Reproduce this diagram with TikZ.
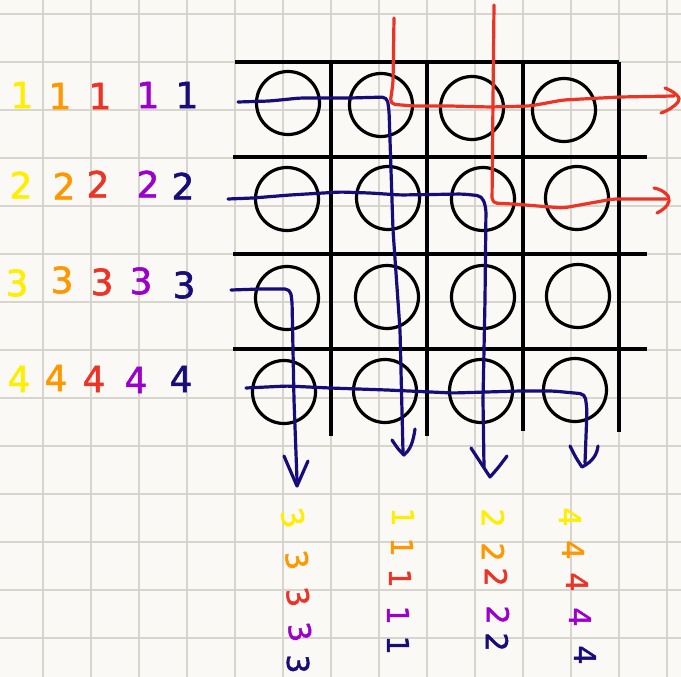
\documentclass[tikz,border=0pt]{standalone}
\usepackage{fontspec}
\setmainfont{DejaVu Sans}
\newfontfamily\hand{DejaVu Sans}[FakeBold=1.6]
\definecolor{paper}{RGB}{251,249,245}
\definecolor{gridc}{RGB}{216,212,206}
\definecolor{cy}{RGB}{255,238,0}
\definecolor{co}{RGB}{255,152,0}
\definecolor{cr}{RGB}{236,52,38}
\definecolor{cp}{RGB}{155,0,204}
\definecolor{cn}{RGB}{22,12,122}
\begin{document}
\begin{tikzpicture}[x=1pt,y=-1pt,
  bggrid/.style={draw=gridc,line width=1.6pt},
  ink/.style={draw=black,line width=3.2pt},
  ring/.style={circle,draw=black,line width=3.2pt,minimum size=63pt,inner sep=0pt},
  bluepen/.style={draw=cn,line width=3.2pt,line cap=round,line join=round,rounded corners=5pt},
  redpen/.style={draw=cr,line width=3.2pt,line cap=round,line join=round,rounded corners=5pt},
  digl/.style={inner sep=0pt,font=\hand\fontsize{36}{36}\selectfont},
  digb/.style={inner sep=0pt,font=\hand\fontsize{30}{30}\selectfont,rotate=-90}]
\fill[paper] (0,0) rectangle (681,677);
\useasboundingbox (0,0) rectangle (681,677);
% background grid
\foreach \x in {43,91,...,667} \draw[bggrid] (\x,0) -- (\x,677);
\foreach \y in {14,62,...,662} \draw[bggrid] (0,\y) -- (681,\y);
% black grid
\draw[ink] (235,62) -- (619,62);
\draw[ink] (233,157) -- (647,157);
\draw[ink] (233,254) -- (647,254);
\draw[ink] (233,349) -- (647,349);
\draw[ink] (331,62) -- (331,436);
\draw[ink] (427,62) -- (427,436);
\draw[ink] (523,62) -- (523,431);
\draw[ink] (619,62) -- (619,432);
% circles
\node[ring] (c11) at (288,103) {};
\node[ring] (c12) at (381,105) {};
\node[ring] (c13) at (472,108) {};
\node[ring] (c14) at (564,110) {};
\node[ring] (c21) at (287,199) {};
\node[ring] (c22) at (388,198) {};
\node[ring] (c23) at (483,199) {};
\node[ring] (c24) at (577,198) {};
\node[ring] (c31) at (287,298) {};
\node[ring] (c32) at (387,297) {};
\node[ring] (c33) at (483,297) {};
\node[ring] (c34) at (578,296) {};
\node[ring] (c41) at (284,392) {};
\node[ring] (c42) at (385,391) {};
\node[ring] (c43) at (481,391) {};
\node[ring] (c44) at (575,390) {};
% blue paths
\coordinate (b1s) at (238,102);
\coordinate (b1e) at (403,452);
\draw[bluepen] (b1s) -- (270,101) -- (300,98) -- (350,98) -- (387,97) -- (389,110) -- (393,230) -- (400,330) -- (b1e);
\draw[bluepen,rounded corners=0pt] (392,440) .. controls (398,449) .. (404,455) .. controls (410,450) and (413,443) .. (415,429);
\coordinate (b2s) at (228,199);
\coordinate (b2e) at (484,467);
\draw[bluepen] (b2s) -- (253,198) -- (290,195) -- (340,192) -- (370,193) -- (400,195) -- (463,194) -- (482,196) -- (486,208) -- (485,300) -- (483,400) -- (b2e);
\draw[bluepen,rounded corners=0pt] (471,448) .. controls (480,462) .. (490,477) .. controls (498,468) .. (507,456);
\coordinate (b3s) at (231,290);
\coordinate (b3e) at (297,480);
\draw[bluepen] (b3s) -- (260,289) -- (290,289) -- (292,300) -- (294,400) -- (b3e);
\draw[bluepen,rounded corners=0pt] (284,456) .. controls (290,470) .. (297,486) .. controls (302,474) .. (308,461);
\coordinate (b4s) at (246,388);
\coordinate (b4e) at (585,463);
\draw[bluepen] (b4s) -- (287,386) -- (330,388) -- (387,390) -- (453,393) -- (520,391) -- (553,391) -- (585,394) -- (587,410) -- (b4e);
\draw[bluepen,rounded corners=0pt] (570,446) .. controls (576,458) .. (582,467) .. controls (592,462) and (597,455) .. (598,446);
% red paths
\coordinate (r1s) at (394,18);
\coordinate (r1e) at (674,96);
\draw[redpen] (r1s) -- (393,83) -- (390,104) -- (413,106) -- (450,106) -- (490,107) -- (530,106) -- (563,100) -- (620,97) -- (r1e);
\draw[redpen,rounded corners=0pt] (665,88) .. controls (675,92) and (682,98) .. (678,102) .. controls (674,107) and (667,111) .. (661,113);
\coordinate (r2s) at (494,5);
\coordinate (r2e) at (666,199);
\draw[redpen] (r2s) -- (493,100) -- (492,203) -- (513,204) -- (563,208) -- (613,199) -- (r2e);
\draw[redpen,rounded corners=0pt] (654,188) .. controls (664,190) and (670,196) .. (669,201) .. controls (668,206) and (663,210) .. (657,213);
% left digits
\node[digl,cy] (l11) at (22,95) {1};
\node[digl,co] (l12) at (60,96) {1};
\node[digl,cr] (l13) at (100,96) {1};
\node[digl,cp] (l14) at (148,95) {1};
\node[digl,cn] (l15) at (187,95) {1};
\node[digl,cy] (l21) at (21,185) {2};
\node[digl,co] (l22) at (64,186) {2};
\node[digl,cr] (l23) at (98,184) {2};
\node[digl,cp] (l24) at (148,184) {2};
\node[digl,cn] (l25) at (183,186) {2};
\node[digl,cy] (l31) at (17,283) {3};
\node[digl,co] (l32) at (62,280) {3};
\node[digl,cr] (l33) at (102,282) {3};
\node[digl,cp] (l34) at (141,281) {3};
\node[digl,cn] (l35) at (184,285) {3};
\node[digl,cy] (l41) at (19,379) {4};
\node[digl,co] (l42) at (56,378) {4};
\node[digl,cr] (l43) at (94,379) {4};
\node[digl,cp] (l44) at (136,380) {4};
\node[digl,cn] (l45) at (181,379) {4};
% bottom digits
\node[digb,cy,rotate=15] (d31) at (293,518) {3};
\node[digb,co,rotate=10] (d32) at (297,560) {3};
\node[digb,cr,rotate=10] (d33) at (298,597) {3};
\node[digb,cp,rotate=10] (d34) at (300,632) {3};
\node[digb,cn] (d35) at (298,664) {3};
\node[digb,cy] (d11) at (403,517) {1};
\node[digb,co] (d12) at (402,547) {1};
\node[digb,cr] (d13) at (400,578) {1};
\node[digb,cp] (d14) at (398,615) {1};
\node[digb,cn] (d15) at (398,645) {1};
\node[digb,cy] (d21) at (493,518) {2};
\node[digb,co] (d22) at (493,552) {2};
\node[digb,cr] (d23) at (496,577) {2};
\node[digb,cp] (d24) at (498,615) {2};
\node[digb,cn] (d25) at (497,642) {2};
\node[digb,cy] (d41) at (570,517) {4};
\node[digb,co] (d42) at (573,550) {4};
\node[digb,cr] (d43) at (577,582) {4};
\node[digb,cp] (d44) at (580,617) {4};
\node[digb,cn] (d45) at (585,655) {4};
\end{tikzpicture}
\end{document}
